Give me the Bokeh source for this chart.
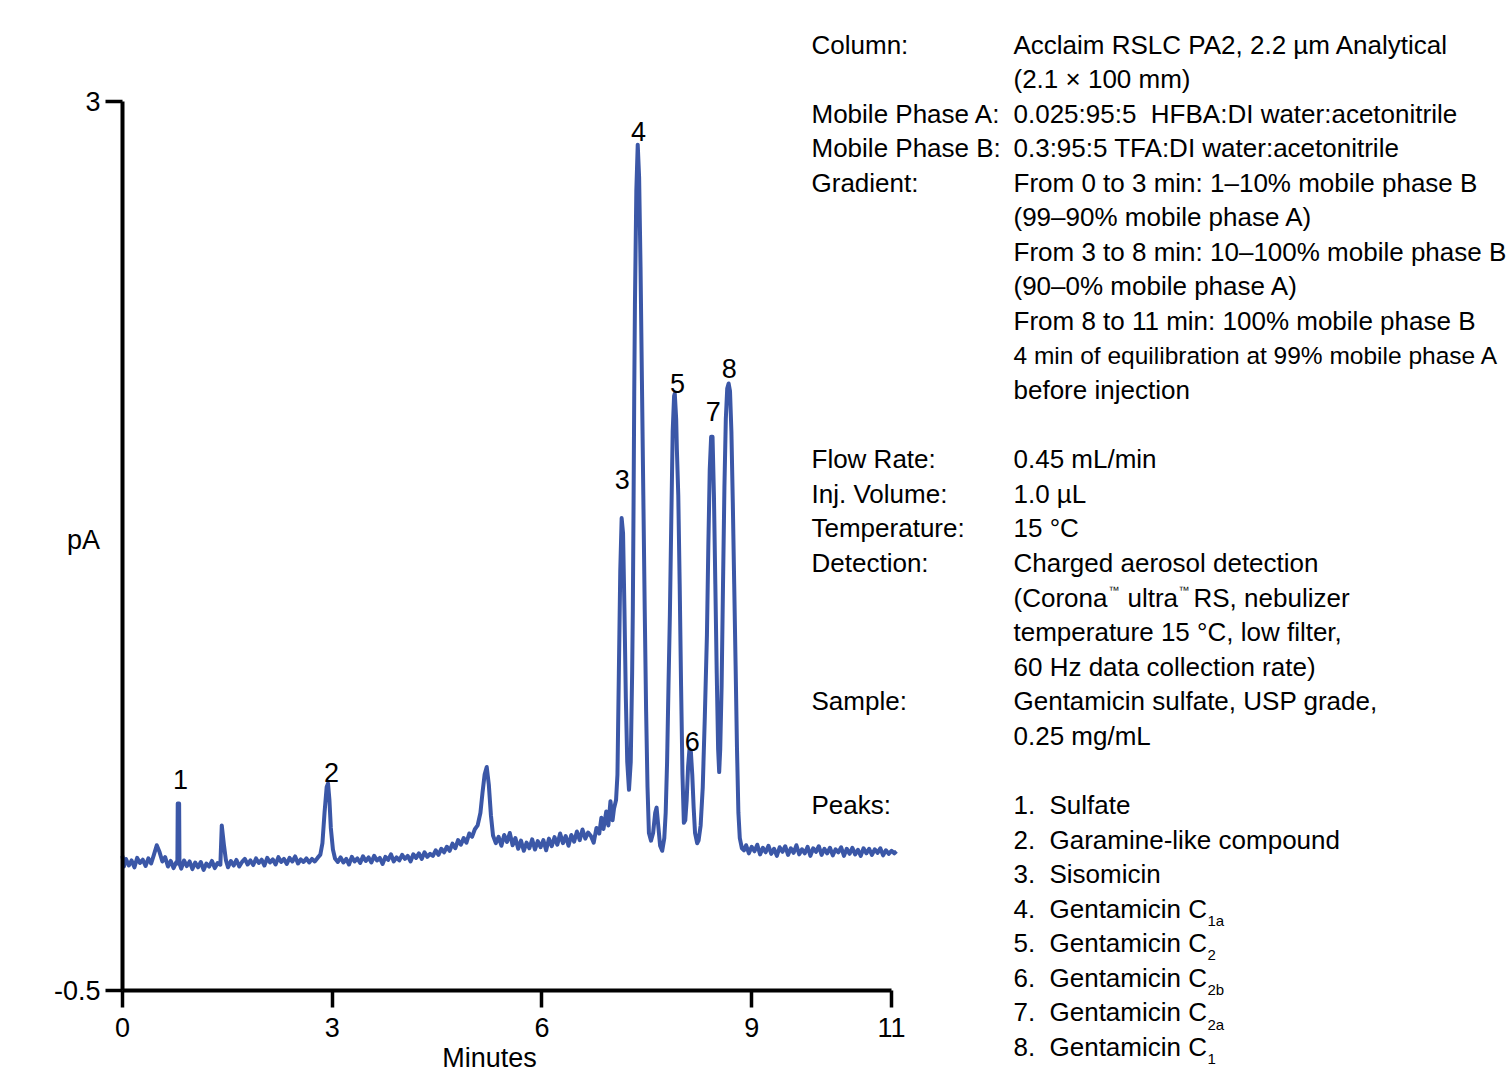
from bokeh.plotting import figure
from bokeh.models import Label, FixedTicker, Range1d
from bokeh.embed import file_html
from bokeh.resources import INLINE

# ---------------- data ----------------
minutes = [
    0.00, 0.02, 0.05, 0.09, 0.13, 0.17, 0.21, 0.25, 0.29, 0.33,
    0.37, 0.41, 0.45, 0.49, 0.53, 0.57, 0.61, 0.65, 0.69, 0.73,
    0.77, 0.785, 0.79, 0.80, 0.81, 0.815, 0.84, 0.88, 0.92, 0.96,
    1.00, 1.04, 1.08, 1.12, 1.16, 1.20, 1.24, 1.28, 1.32, 1.36,
    1.40, 1.42, 1.45, 1.48, 1.51, 1.55, 1.59, 1.63, 1.67, 1.71,
    1.75, 1.79, 1.83, 1.87, 1.91, 1.95, 1.99, 2.03, 2.07, 2.11,
    2.15, 2.19, 2.23, 2.27, 2.31, 2.35, 2.39, 2.43, 2.47, 2.51,
    2.55, 2.59, 2.63, 2.67, 2.71, 2.75, 2.79, 2.83, 2.86, 2.89,
    2.92, 2.94, 2.96, 2.98, 3.01, 3.04, 3.08, 3.12, 3.16, 3.20,
    3.24, 3.28, 3.32, 3.36, 3.40, 3.44, 3.48, 3.52, 3.56, 3.60,
    3.64, 3.68, 3.72, 3.76, 3.80, 3.84, 3.88, 3.92, 3.96, 4.00,
    4.04, 4.08, 4.12, 4.16, 4.20, 4.24, 4.28, 4.32, 4.36, 4.40,
    4.44, 4.48, 4.52, 4.56, 4.60, 4.64, 4.68, 4.72, 4.76, 4.80,
    4.84, 4.88, 4.92, 4.96, 5.00, 5.04, 5.08, 5.12, 5.15, 5.18,
    5.21, 5.24, 5.27, 5.30, 5.34, 5.38, 5.42, 5.46, 5.50, 5.54,
    5.58, 5.62, 5.66, 5.70, 5.74, 5.78, 5.82, 5.86, 5.90, 5.94,
    5.98, 6.02, 6.06, 6.10, 6.14, 6.18, 6.22, 6.26, 6.30, 6.34,
    6.38, 6.42, 6.46, 6.50, 6.54, 6.58, 6.62, 6.66, 6.70, 6.74,
    6.78, 6.82, 6.85, 6.88, 6.92, 6.95, 6.98, 7.01, 7.03, 7.06,
    7.08, 7.10, 7.12, 7.14, 7.16, 7.18, 7.20, 7.22, 7.245, 7.27,
    7.29, 7.30, 7.31, 7.32, 7.33, 7.35, 7.37, 7.39, 7.41, 7.43,
    7.45, 7.47, 7.49, 7.51, 7.53, 7.56, 7.59, 7.62, 7.64, 7.66,
    7.69, 7.72, 7.75, 7.77, 7.79, 7.81, 7.83, 7.85, 7.87, 7.89,
    7.90, 7.92, 7.93, 7.95, 7.97, 7.99, 8.01, 8.03, 8.05, 8.07,
    8.09, 8.11, 8.13, 8.15, 8.17, 8.19, 8.22, 8.24, 8.27, 8.30,
    8.33, 8.36, 8.38, 8.40, 8.42, 8.44, 8.46, 8.48, 8.50, 8.52,
    8.535, 8.55, 8.57, 8.59, 8.61, 8.63, 8.65, 8.67, 8.69, 8.71,
    8.73, 8.75, 8.77, 8.79, 8.81, 8.83, 8.86, 8.89, 8.92, 8.96,
    9.00, 9.04, 9.08, 9.12, 9.16, 9.20, 9.24, 9.28, 9.32, 9.36,
    9.40, 9.44, 9.48, 9.52, 9.56, 9.60, 9.64, 9.68, 9.72, 9.76,
    9.80, 9.84, 9.88, 9.92, 9.96, 10.00, 10.04, 10.08, 10.12, 10.16,
    10.20, 10.24, 10.28, 10.32, 10.36, 10.40, 10.44, 10.48, 10.52, 10.56,
    10.60, 10.64, 10.68, 10.72, 10.76, 10.80, 10.84, 10.88, 10.92, 10.96,
    11.00, 11.04, 11.07,
]
signal_pA = [
    0.030, -0.012, 0.018, -0.008, 0.012, -0.015, 0.022, 0.002, 0.015, -0.010,
    0.020, 0.000, 0.035, 0.072, 0.045, 0.008, 0.025, -0.012, 0.010, -0.018,
    0.005, 0.000, 0.236, 0.236, 0.236, 0.000, -0.020, 0.012, -0.010, 0.008,
    -0.022, 0.004, -0.015, 0.006, -0.025, 0.000, -0.012, 0.010, -0.018, 0.002,
    -0.005, 0.150, 0.075, 0.012, -0.015, 0.010, -0.008, 0.014, -0.012, 0.006,
    0.018, -0.004, 0.012, -0.006, 0.020, 0.002, 0.015, -0.008, 0.022, 0.004,
    0.016, -0.004, 0.025, 0.006, 0.018, -0.002, 0.022, 0.008, 0.028, 0.000,
    0.016, 0.006, 0.020, 0.004, 0.018, 0.008, 0.022, 0.035, 0.080, 0.200,
    0.300, 0.315, 0.250, 0.140, 0.055, 0.020, 0.006, 0.024, 0.004, 0.018,
    -0.004, 0.026, 0.008, 0.020, 0.002, 0.028, 0.010, 0.024, 0.004, 0.030,
    0.012, 0.022, -0.002, 0.026, 0.014, 0.036, 0.008, 0.024, 0.012, 0.034,
    0.018, 0.030, 0.008, 0.036, 0.022, 0.040, 0.018, 0.044, 0.026, 0.038,
    0.030, 0.052, 0.034, 0.058, 0.044, 0.066, 0.050, 0.078, 0.060, 0.092,
    0.074, 0.100, 0.082, 0.118, 0.105, 0.135, 0.150, 0.200, 0.280, 0.350,
    0.380, 0.310, 0.190, 0.110, 0.080, 0.105, 0.070, 0.112, 0.085, 0.120,
    0.072, 0.100, 0.058, 0.090, 0.050, 0.082, 0.060, 0.095, 0.055, 0.088,
    0.064, 0.092, 0.052, 0.098, 0.068, 0.104, 0.074, 0.118, 0.080, 0.108,
    0.070, 0.112, 0.086, 0.126, 0.092, 0.134, 0.098, 0.122, 0.108, 0.082,
    0.140, 0.118, 0.180, 0.136, 0.205, 0.150, 0.245, 0.170, 0.215, 0.250,
    0.350, 0.750, 1.150, 1.360, 1.300, 1.000, 0.650, 0.400, 0.290, 0.400,
    0.750, 1.000, 1.400, 1.850, 2.200, 2.650, 2.830, 2.700, 2.350, 1.900,
    1.450, 1.000, 0.600, 0.300, 0.120, 0.090, 0.120, 0.200, 0.220, 0.160,
    0.070, 0.050, 0.100, 0.200, 0.400, 0.700, 0.980, 1.350, 1.700, 1.840,
    1.850, 1.750, 1.630, 1.450, 1.100, 0.700, 0.350, 0.160, 0.170, 0.250,
    0.380, 0.450, 0.440, 0.350, 0.220, 0.120, 0.080, 0.090, 0.150, 0.300,
    0.580, 0.900, 1.250, 1.550, 1.680, 1.680, 1.450, 1.100, 0.750, 0.450,
    0.360, 0.450, 0.700, 1.100, 1.480, 1.750, 1.870, 1.890, 1.860, 1.700,
    1.420, 1.100, 0.780, 0.450, 0.200, 0.100, 0.060, 0.052, 0.072, 0.040,
    0.066, 0.048, 0.074, 0.036, 0.062, 0.044, 0.070, 0.038, 0.058, 0.030,
    0.064, 0.046, 0.068, 0.034, 0.060, 0.042, 0.072, 0.036, 0.056, 0.040,
    0.066, 0.030, 0.060, 0.046, 0.068, 0.034, 0.058, 0.040, 0.062, 0.032,
    0.056, 0.044, 0.064, 0.030, 0.058, 0.038, 0.062, 0.036, 0.054, 0.030,
    0.060, 0.040, 0.058, 0.034, 0.056, 0.042, 0.060, 0.032, 0.052, 0.038,
    0.050, 0.040, 0.048,
]
assert len(minutes) == len(signal_pA)

x_ticks = [0, 3, 6, 9, 11]
y_ticks = [-0.5, 3]

peak_numbers = ["1", "2", "3", "4", "5", "6", "7", "8"]
peak_label_min = [0.83, 2.99, 7.15, 7.38, 7.94, 8.15, 8.45, 8.68]
peak_label_pA = [0.33, 0.36, 1.51, 2.88, 1.89, 0.48, 1.78, 1.95]

condition_labels = [
    (0, "Column:"), (2, "Mobile Phase A:"), (3, "Mobile Phase B:"),
    (4, "Gradient:"), (12, "Flow Rate:"), (13, "Inj. Volume:"),
    (14, "Temperature:"), (15, "Detection:"), (19, "Sample:"), (22, "Peaks:"),
]
condition_values = [
    (0, "Acclaim RSLC PA2, 2.2 µm Analytical"),
    (1, "(2.1 × 100 mm)"),
    (2, "0.025:95:5\u00a0 HFBA:DI water:acetonitrile"),
    (3, "0.3:95:5 TFA:DI water:acetonitrile"),
    (4, "From 0 to 3 min: 1–10% mobile phase B"),
    (5, "(99–90% mobile phase A)"),
    (6, "From 3 to 8 min: 10–100% mobile phase B"),
    (7, "(90–0% mobile phase A)"),
    (8, "From 8 to 11 min: 100% mobile phase B"),
    (9, "4 min of equilibration at 99% mobile phase A"),
    (10, "before injection"),
    (12, "0.45 mL/min"),
    (13, "1.0 µL"),
    (14, "15 °C"),
    (15, "Charged aerosol detection"),
    (17, "temperature 15 °C, low filter,"),
    (18, "60 Hz data collection rate)"),
    (19, "Gentamicin sulfate, USP grade,"),
    (20, "0.25 mg/mL"),
]
peak_names = ["Sulfate", "Garamine-like compound", "Sisomicin", "Gentamicin C",
              "Gentamicin C", "Gentamicin C", "Gentamicin C", "Gentamicin C"]
peak_subscripts = ["", "", "", "1a", "2", "2b", "2a", "1"]

# ---------------- layout (page pixels -> data units) ----------------
X0_PX, X1_PX, Y_TOP_PX, Y_BOT_PX = 122, 891, 101, 990
FONT = "Liberation Sans"
W, H = 1511, 1075


def px_x(px):
    return (px - X0_PX) / (X1_PX - X0_PX) * 11.0


def px_y(py):
    return -0.5 + (Y_BOT_PX - py) / (Y_BOT_PX - Y_TOP_PX) * 3.5


p = figure(width=W, height=H,
           x_range=Range1d(px_x(0), px_x(W)), y_range=Range1d(px_y(H), px_y(0)),
           output_backend="svg", toolbar_location=None, min_border=0)
p.outline_line_color = None
p.xgrid.visible = False
p.ygrid.visible = False
p.background_fill_color = "white"
p.border_fill_color = "white"

p.line(minutes, signal_pA, line_color="#3b57a7", line_width=4, line_join="round")

p.xaxis.ticker = FixedTicker(ticks=x_ticks)
p.yaxis.ticker = FixedTicker(ticks=y_ticks)
p.yaxis.major_label_overrides = {3: "3", -0.5: "-0.5"}
p.xaxis.fixed_location = -0.5
p.xaxis.bounds = (0, 11)
p.yaxis.fixed_location = 0
p.yaxis.bounds = (-0.5, 3)
for ax in (p.xaxis[0], p.yaxis[0]):
    ax.axis_line_width = 4
    ax.axis_line_color = "black"
    ax.major_tick_line_width = 3.5
    ax.major_tick_line_color = "black"
    ax.major_tick_out = 17
    ax.major_tick_in = 0
    ax.minor_tick_line_color = None
    ax.major_label_text_font = FONT
    ax.major_label_text_font_size = "27px"
    ax.major_label_text_color = "black"
p.xaxis.major_label_standoff = 10
p.yaxis.major_label_standoff = 5


def add_text(px, py, text, size="26px", align="left", baseline="middle"):
    p.add_layout(Label(x=px_x(px), y=px_y(py), text=text, text_font=FONT,
                       text_font_size=size, text_align=align,
                       text_baseline=baseline, text_color="black"))


# axis titles
add_text(83, 539, "pA", size="27px", align="center")
add_text(489, 1057, "Minutes", size="27px", align="center")

# peak numbers
for n, xm, ya in zip(peak_numbers, peak_label_min, peak_label_pA):
    p.add_layout(Label(x=xm, y=ya, text=n, text_font=FONT, text_font_size="27px",
                       text_align="center", text_baseline="middle", text_color="black"))

# conditions block
LINE0, STEP = 44.0, 34.57
LABEL_PX, VALUE_PX = 811, 1013
for i, t in condition_labels:
    add_text(LABEL_PX, LINE0 + STEP * i, t)
for i, t in condition_values:
    add_text(VALUE_PX, LINE0 + STEP * i, t, size="24.5px" if i == 9 else "26px")

# line with trademark superscripts
yl = LINE0 + STEP * 16
add_text(VALUE_PX, yl, "(Corona")
add_text(1108, yl - 8, "™", size="11px")
add_text(1127, yl, "ultra")
add_text(1178, yl - 8, "™", size="11px")
add_text(1193, yl, "RS, nebulizer")

# peak list
for k, (name, sub) in enumerate(zip(peak_names, peak_subscripts)):
    yk = LINE0 + STEP * (22 + k)
    add_text(VALUE_PX, yk, f"{k + 1}.")
    add_text(1049, yk, name)
    if sub:
        add_text(1207, yk + 12, sub, size="15px")

open("out.html", "w").write(file_html(p, INLINE))
